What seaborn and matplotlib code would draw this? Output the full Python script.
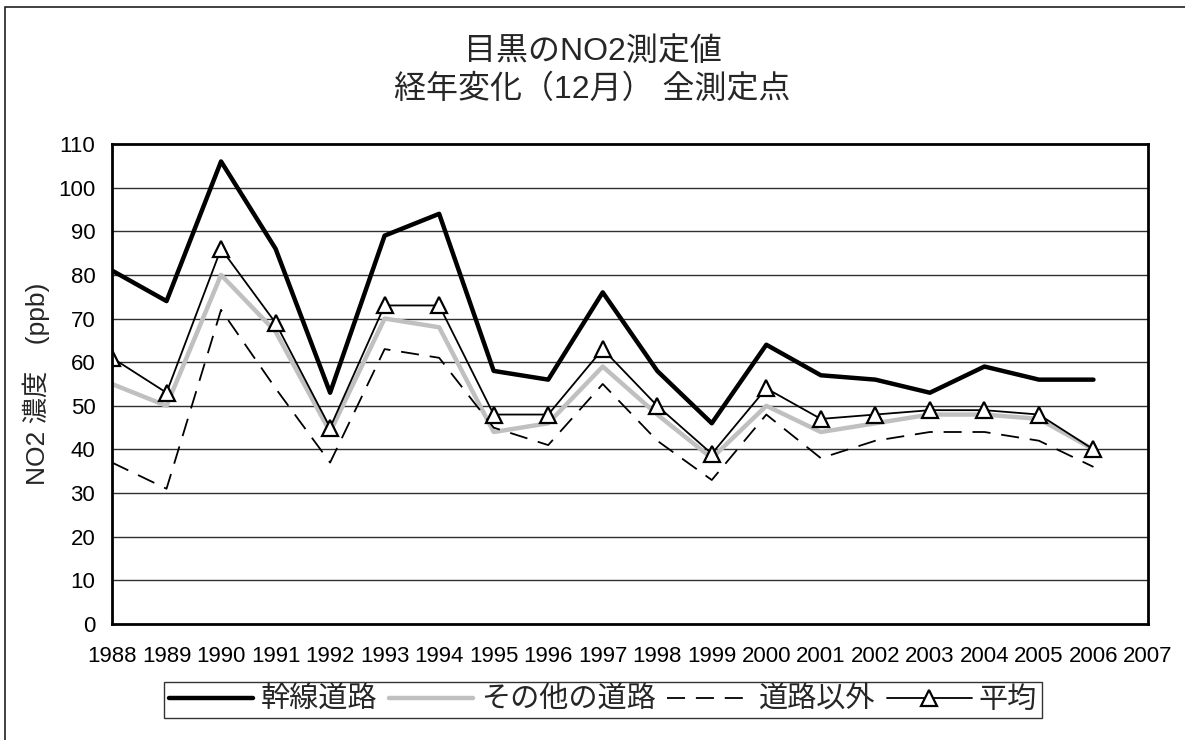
import matplotlib
matplotlib.use("Agg")
import matplotlib.pyplot as plt
import seaborn as sns
import pandas as pd
from matplotlib.patches import Rectangle

# data (NO2, December, ppb)
years = list(range(1988, 2007))
main_road = [81, 74, 106, 86, 53, 89, 94, 58, 56, 76, 58, 46, 64, 57, 56, 53, 59, 56, 56]
other_road = [55, 50, 80, 67, 44, 70, 68, 44, 46, 59, 48, 38, 50, 44, 46, 48, 48, 47, 40]
non_road = [37, 31, 72, 54, 37, 63, 61, 45, 41, 55, 42, 33, 48, 38, 42, 44, 44, 42, 36]
average = [61, 53, 86, 69, 45, 73, 73, 48, 48, 63, 50, 39, 54, 47, 48, 49, 49, 48, 40]

series_names = ["幹線道路", "その他の道路", "道路以外", "平均"]
title_lines = ["目黒のNO2測定値", "経年変化（12月） 全測定点"]
y_label = "NO2 濃度　(ppb)"
x_ticks = list(range(1988, 2008))
y_ticks = list(range(0, 111, 10))

df = pd.DataFrame({"year": years, series_names[0]: main_road, series_names[1]: other_road,
                   series_names[2]: non_road, series_names[3]: average})

sns.set_style("white")
plt.rcParams['font.family'] = ['Liberation Sans', 'Noto Sans CJK JP', 'DejaVu Sans']

fig = plt.figure(figsize=(11.85, 7.4), dpi=100)
ax = fig.add_axes([112/1185, 1-624/740, (1148-112)/1185, (624-144)/740])

# outer chart border
fig.patches.append(Rectangle((5/1185, -0.01), 1.02, 1-7/740+0.01, transform=fig.transFigure,
                             fill=False, edgecolor='#202020', linewidth=1.2))

for y in y_ticks[1:-1]:
    ax.axhline(y, color='#303030', linewidth=1.0, zorder=0)

sns.lineplot(data=df, x="year", y=series_names[0], ax=ax, color='black', linewidth=3.2,
             label=series_names[0])
sns.lineplot(data=df, x="year", y=series_names[1], ax=ax, color='#c0c0c0', linewidth=3.2,
             label=series_names[1])
sns.lineplot(data=df, x="year", y=series_names[2], ax=ax, color='black', linewidth=1.3,
             linestyle=(0, (10, 6)), label=series_names[2])
sns.lineplot(data=df, x="year", y=series_names[3], ax=ax, color='black', linewidth=1.3,
             marker='^', markersize=12, markerfacecolor='white', markeredgecolor='black',
             markeredgewidth=1.6, label=series_names[3])

ax.set_xlim(1988, 2007)
ax.set_ylim(0, 110)
ax.set_xticks(x_ticks)
ax.set_xticklabels([str(x) for x in x_ticks])
ax.set_yticks(y_ticks)
ax.tick_params(axis='x', direction='in', length=6, width=1, pad=16, labelsize=16, colors='black')
ax.tick_params(axis='y', direction='in', length=6, width=1, pad=12, labelsize=16, colors='black')
ax.tick_params(top=False, right=False)
for sp in ax.spines.values():
    sp.set_color('black')
    sp.set_linewidth(2.0)
    sp.set_visible(True)

ax.set_xlabel("")
ax.set_ylabel(y_label, fontsize=19, labelpad=6)

fig.text(0.5, 1-71/740, "\n".join(title_lines), ha='center', va='center', fontsize=23,
         linespacing=1.32)

handles, labels = ax.get_legend_handles_labels()
ax.get_legend().remove()
leg = fig.legend(handles, labels, loc='center', bbox_to_anchor=(603/1185, 1-700/740), ncol=4,
                 fontsize=21, frameon=True, fancybox=False, edgecolor='black', handlelength=2.9,
                 handletextpad=0.25, columnspacing=0.4, borderpad=0.15, borderaxespad=0)
leg.get_frame().set_linewidth(1.0)

plt.savefig("out.png", dpi=100)
